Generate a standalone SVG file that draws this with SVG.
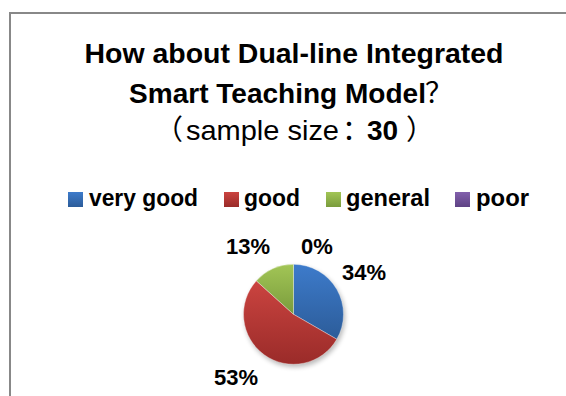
<svg xmlns="http://www.w3.org/2000/svg" width="566" height="396" viewBox="0 0 566 396">
  <defs>
    <linearGradient id="gBlue" x1="0" y1="0" x2="0" y2="1">
      <stop offset="0" stop-color="#3D7BCB"/>
      <stop offset="1" stop-color="#2C5C99"/>
    </linearGradient>
    <linearGradient id="gRed" x1="0" y1="0" x2="0" y2="1">
      <stop offset="0" stop-color="#CB4440"/>
      <stop offset="1" stop-color="#9A2B29"/>
    </linearGradient>
    <linearGradient id="gGreen" x1="0" y1="0" x2="0" y2="1">
      <stop offset="0" stop-color="#A2C556"/>
      <stop offset="1" stop-color="#7A9C3C"/>
    </linearGradient>
    <linearGradient id="gPurple" x1="0" y1="0" x2="0" y2="1">
      <stop offset="0" stop-color="#8260AC"/>
      <stop offset="1" stop-color="#5E4284"/>
    </linearGradient>
    <filter id="shadow" x="-30%" y="-30%" width="160%" height="160%">
      <feGaussianBlur stdDeviation="2.5"/>
    </filter>
  </defs>
  <style>
    .t { font-family: "Liberation Sans", Arial, sans-serif; fill: #000; }
    .b { font-weight: bold; }
    .cjk { font-family: "Noto Sans CJK SC", sans-serif; font-weight: normal; }
    .leg { font-size: 23px; }
    .pct { font-size: 22px; font-weight: bold; }
    .slice { stroke: #ffffff; stroke-width: 0.6; stroke-opacity: 0.6; }
  </style>
  <rect width="566" height="396" fill="#ffffff"/>
  <path d="M10 396 V13 H566" fill="none" stroke="#888888" stroke-width="2"/>

  <g id="title">
    <text class="t b" x="84.5" y="63" font-size="28" textLength="419" lengthAdjust="spacingAndGlyphs">How about Dual-line Integrated</text>
    <text class="t b" y="103" font-size="28"><tspan x="129" textLength="297" lengthAdjust="spacingAndGlyphs">Smart Teaching Model</tspan><tspan class="cjk" x="425">？</tspan></text>
    <text class="t" y="140" font-size="28"><tspan class="cjk" x="155">（</tspan><tspan x="186" textLength="153" lengthAdjust="spacingAndGlyphs">sample size</tspan><tspan class="cjk" x="342">：</tspan><tspan class="b" x="367">30</tspan><tspan class="cjk" x="406">）</tspan></text>
  </g>

  <g id="legend">
    <g id="legend-very-good">
      <rect x="68" y="192" width="15" height="15" fill="url(#gBlue)"/>
      <text class="t b leg" x="89" y="206" textLength="109" lengthAdjust="spacingAndGlyphs">very good</text>
    </g>
    <g id="legend-good">
      <rect x="224" y="192" width="15" height="15" fill="url(#gRed)"/>
      <text class="t b leg" x="244" y="206" textLength="56" lengthAdjust="spacingAndGlyphs">good</text>
    </g>
    <g id="legend-general">
      <rect x="326" y="192" width="15" height="15" fill="url(#gGreen)"/>
      <text class="t b leg" x="346" y="206" textLength="84" lengthAdjust="spacingAndGlyphs">general</text>
    </g>
    <g id="legend-poor">
      <rect x="455" y="192" width="15" height="15" fill="url(#gPurple)"/>
      <text class="t b leg" x="476" y="206" textLength="53" lengthAdjust="spacingAndGlyphs">poor</text>
    </g>
  </g>

  <g id="pie">
    <circle cx="295" cy="317" r="50" fill="#000" opacity="0.28" filter="url(#shadow)"/>
    <g id="slice-very-good">
      <path class="slice" d="M293.5 314.3 L293.5 264.3 A50 50 0 0 1 336.8 339.3 Z" fill="url(#gBlue)"/>
    </g>
    <g id="slice-good">
      <path class="slice" d="M293.5 314.3 L336.8 339.3 A50 50 0 1 1 256.34 280.84 Z" fill="url(#gRed)"/>
    </g>
    <g id="slice-general">
      <path class="slice" d="M293.5 314.3 L256.34 280.84 A50 50 0 0 1 293.5 264.3 Z" fill="url(#gGreen)"/>
    </g>
  </g>

  <g id="labels">
    <text class="t pct" x="226" y="254">13%</text>
    <text class="t pct" x="301" y="254">0%</text>
    <text class="t pct" x="342" y="280">34%</text>
    <text class="t pct" x="214" y="385">53%</text>
  </g>
</svg>
